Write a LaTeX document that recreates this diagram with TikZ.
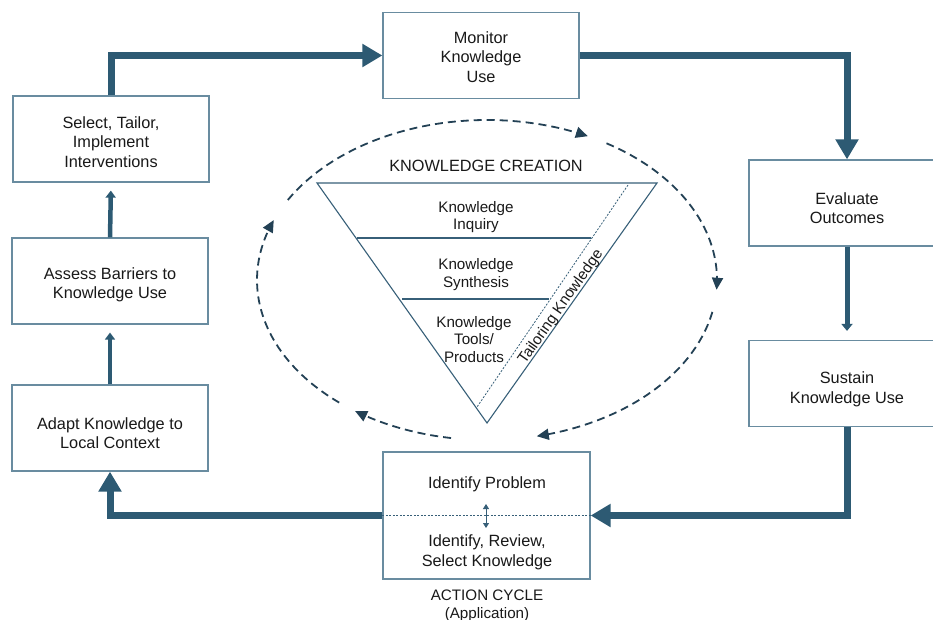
\documentclass[tikz,border=0pt]{standalone}
\usepackage{fontspec}
\setmainfont{Liberation Sans}
\usetikzlibrary{arrows.meta}
\definecolor{flowc}{RGB}{45,90,115}
\definecolor{boxline}{RGB}{105,140,160}
\definecolor{tric}{RGB}{55,95,120}
\definecolor{dshc}{RGB}{35,65,85}
\definecolor{txtc}{RGB}{25,25,25}
\begin{document}
\begin{tikzpicture}[x=1pt,y=-1pt,
  box/.style={draw=boxline, line width=1.2pt, fill=white, minimum width=196pt, minimum height=86pt, inner sep=0pt},
  lbl/.style={align=center, text=txtc, font=\fontsize{16.3}{19.5}\selectfont, inner sep=0pt},
  tlbl/.style={align=center, text=txtc, font=\fontsize{15.2}{17.5}\selectfont, inner sep=0pt},
  bigflow/.style={draw=flowc, line width=7pt, -{Triangle[length=20pt,width=22pt]}},
  smallflow/.style={draw=flowc, line width=4.5pt, -{Triangle[length=7pt,width=10pt]}, shorten >=8pt},
  triline/.style={draw=tric, line width=1.1pt},
  dotline/.style={draw=tric, line width=0.8pt, dash pattern=on 2pt off 1.5pt},
  dsharc/.style={draw=dshc, line width=1.8pt, dash pattern=on 8pt off 5pt, -{Triangle[length=12pt,width=11pt]}}
]
\useasboundingbox (0,0) rectangle (933,620);

% boxes
\node[box] (mon) at (481,55.5) {};
\node[box] (sel) at (111,139) {};
\node[box] (ass) at (110,281) {};
\node[box] (ada) at (110,428) {};
\node[box] (eva) at (847,203) {};
\node[box] (sus) at (847,383.5) {};
\node[box, minimum width=207pt, minimum height=127pt] (ide) at (486.5,515.5) {};

\node[lbl] (tmon) at ([yshift=-1.5pt]mon.center) {Monitor\\Knowledge\\Use};
\node[lbl] (tsel) at ([yshift=-3pt]sel.center) {Select, Tailor,\\Implement\\Interventions};
\node[lbl] (tass) at ([yshift=-4pt]ass.center) {Assess Barriers to\\Knowledge Use};
\node[lbl] (tada) at ([yshift=-5pt]ada.center) {Adapt Knowledge to\\Local Context};
\node[lbl] (teva) at ([yshift=-5pt]eva.center) {Evaluate\\Outcomes};
\node[lbl] (tsus) at ([yshift=-6pt]sus.center) {Sustain\\Knowledge Use};

% contents of identify box
\draw[dotline] (ide.west) -- (ide.east);
\node[lbl] (ip) at (487,484) {Identify Problem};
\node[lbl] (irs) at (487,552.5) {Identify, Review,\\Select Knowledge};
\coordinate (da1) at (486,504);
\coordinate (da2) at (486,528);
\draw[draw=tric, line width=0.9pt, {Triangle[length=5pt,width=6pt]}-{Triangle[length=5pt,width=6pt]}] (da1) -- (da2);
\node[tlbl] (ac) at (487,606) {ACTION CYCLE\\(Application)};

% thick flows
\draw[bigflow] (sel.north) |- (mon.west);
\draw[bigflow] (mon.east) -| (eva.north);
\draw[draw=flowc, line width=5pt, -{Triangle[length=7pt,width=11pt]}, shorten >=9pt] (eva.south) -- (sus.north);
\draw[bigflow] (sus.south) |- (ide.east);
\draw[bigflow] (ide.west) -| (ada.south);
\draw[smallflow] (ada.north) -- (ass.south);
\draw[smallflow] (ass.north) -- (sel.south);

% knowledge creation funnel
\node[lbl] (kc) at (486,166) {KNOWLEDGE CREATION};
\coordinate (tl) at (317,183);
\coordinate (tr) at (657,183);
\coordinate (tb) at (487,423);
\draw[triline] (tl) -- (tr) -- (tb) -- cycle;
\coordinate (h1a) at (357,238);
\coordinate (h1b) at (591,238);
\coordinate (h2a) at (402,299);
\coordinate (h2b) at (549,299);
\draw[triline] (h1a) -- (h1b);
\draw[triline] (h2a) -- (h2b);
\coordinate (d1) at (628,185);
\coordinate (d2) at (477,407);
\draw[dotline] (d1) -- (d2);
\node[tlbl] (k1) at (476,217) {Knowledge\\Inquiry};
\node[tlbl] (k2) at (476,274.5) {Knowledge\\Synthesis};
\node[tlbl] (k3) at (474,339.5) {Knowledge\\Tools/\\Products};
\node[tlbl, rotate=55] (tk) at (561,307) {Tailoring Knowledge};

% dashed cycle
\draw[dsharc] plot[domain=150:64, samples=50, smooth] ({487+230*cos(\x)},{280-160*sin(\x)});
\draw[dsharc] plot[domain=58.7:-3.5, samples=50, smooth] ({487+230*cos(\x)},{280-160*sin(\x)});
\draw[dsharc] plot[domain=-11.5:-77.5, samples=50, smooth] ({487+230*cos(\x)},{280-160*sin(\x)});
\draw[dsharc] plot[domain=-99:-125, samples=30, smooth] ({487+230*cos(\x)},{280-160*sin(\x)});
\draw[dsharc] plot[domain=-130:-202, samples=50, smooth] ({487+230*cos(\x)},{280-160*sin(\x)});
\end{tikzpicture}
\end{document}
